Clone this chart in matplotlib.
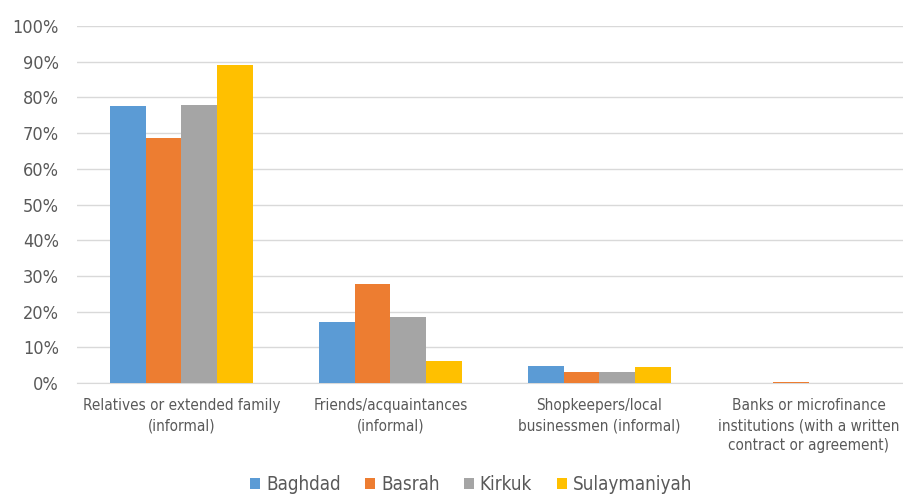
import numpy as np
import matplotlib
matplotlib.use("Agg")
from matplotlib import pyplot as plt
from matplotlib.ticker import PercentFormatter

categories = ["Relatives or extended family\n(informal)",
              "Friends/acquaintances\n(informal)",
              "Shopkeepers/local\nbusinessmen (informal)",
              "Banks or microfinance\ninstitutions (with a written\ncontract or agreement)"]
cities = ["Baghdad", "Basrah", "Kirkuk", "Sulaymaniyah"]
baghdad = [77.5, 17.2, 4.7, 0.0]
basrah = [68.6, 27.7, 3.1, 0.4]
kirkuk = [78.0, 18.6, 3.1, 0.0]
sulaymaniyah = [89.0, 6.3, 4.5, 0.0]
colors = ["#5B9BD5", "#ED7D31", "#A5A5A5", "#FFC000"]

plt.rcParams['font.family'] = ['DejaVu Sans']
plt.rcParams['font.stretch'] = 'condensed'
text_color = "#595959"

fig = plt.figure(figsize=(9.04, 4.94), dpi=100)
ax = fig.add_axes([77/904, 1 - 383/494, 836/904, 357/494])

x = np.arange(len(categories))
width = 0.172
series = [baghdad, basrah, kirkuk, sulaymaniyah]
for i, (vals, name) in enumerate(zip(series, cities)):
    ax.bar(x + (i - 1.5) * width, vals, width, color=colors[i], label=name, zorder=3)

ax.set_xlim(-0.5, len(categories) - 0.5)
ax.set_ylim(0, 100)
ax.set_yticks(np.arange(0, 101, 10))
ax.yaxis.set_major_formatter(PercentFormatter(decimals=0))
ax.grid(axis="y", color="#D9D9D9", linewidth=1, zorder=0)
for s in ["top", "right", "left"]:
    ax.spines[s].set_visible(False)
ax.spines["bottom"].set_color("#D9D9D9")
ax.tick_params(axis="y", length=0, labelsize=13, labelcolor=text_color, pad=13)
ax.tick_params(axis="x", length=0, labelsize=11, labelcolor=text_color, pad=11)
ax.set_xticks(x)
ax.set_xticklabels(categories, linespacing=1.4)

fig.legend(loc="lower center", bbox_to_anchor=(0.521, -0.035), ncol=4, frameon=False,
           fontsize=13.5, labelcolor=text_color, handlelength=0.55, handleheight=0.55,
           handletextpad=0.3, columnspacing=1.3)

fig.savefig("out.png", dpi=100)
